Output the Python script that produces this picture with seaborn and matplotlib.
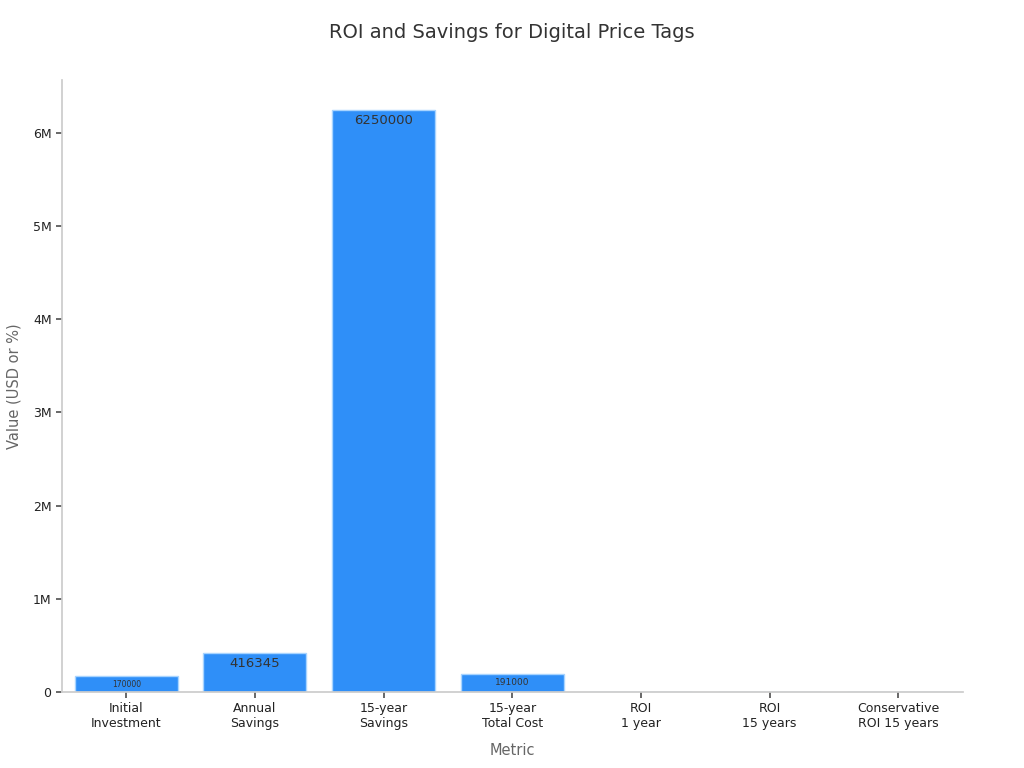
import numpy as np
import pandas as pd
import seaborn as sns
import matplotlib
matplotlib.use("Agg")
import matplotlib.pyplot as plt
from matplotlib.ticker import FuncFormatter

metrics = ["Initial\nInvestment", "Annual\nSavings", "15-year\nSavings",
           "15-year\nTotal Cost", "ROI\n1 year", "ROI\n15 years",
           "Conservative\nROI 15 years"]
values = [170000, 416345, 6250000, 191000, 145, 3172, 1200]
label_sizes = [5.5, 9.5, 9.5, 6.5, 0, 0, 0]

df = pd.DataFrame({"Metric": metrics, "Value": values})

sns.set_theme(style="white")
plt.rcParams["font.family"] = ["DejaVu Sans"]

fig, ax = plt.subplots(figsize=(10.24, 7.68), dpi=100)
fig.subplots_adjust(left=0.0605, right=0.94, top=0.896, bottom=0.099)

sns.barplot(data=df, x="Metric", y="Value", color="#2f8ff8",
            edgecolor="#a8d4ff", linewidth=1, width=0.8, saturation=1, ax=ax)

for i, (v, fs) in enumerate(zip(values, label_sizes)):
    if fs > 0:
        ax.annotate(str(v), (i, v), xytext=(0, -3), textcoords="offset points",
                    ha="center", va="top", fontsize=fs, color="#333333")

ax.set_xlim(-0.5, 6.5)
ax.set_ylim(0, 6.57e6)
ax.yaxis.set_major_formatter(
    FuncFormatter(lambda x, p: "0" if x == 0 else f"{x/1e6:g}M"))

for s in ["top", "right"]:
    ax.spines[s].set_visible(False)
for s in ["left", "bottom"]:
    ax.spines[s].set_color("#cccccc")

ax.tick_params(axis="both", which="both", length=4, color="#555555",
               labelsize=9, labelcolor="#222222", left=True, bottom=True)

ax.set_xlabel("Metric", fontsize=10.5, color="#666666", labelpad=9)
ax.set_ylabel("Value (USD or %)", fontsize=10.5, color="#666666", labelpad=8)
fig.suptitle("ROI and Savings for Digital Price Tags", fontsize=14,
             color="#333333", y=0.97)

plt.savefig("out.png", dpi=100)
